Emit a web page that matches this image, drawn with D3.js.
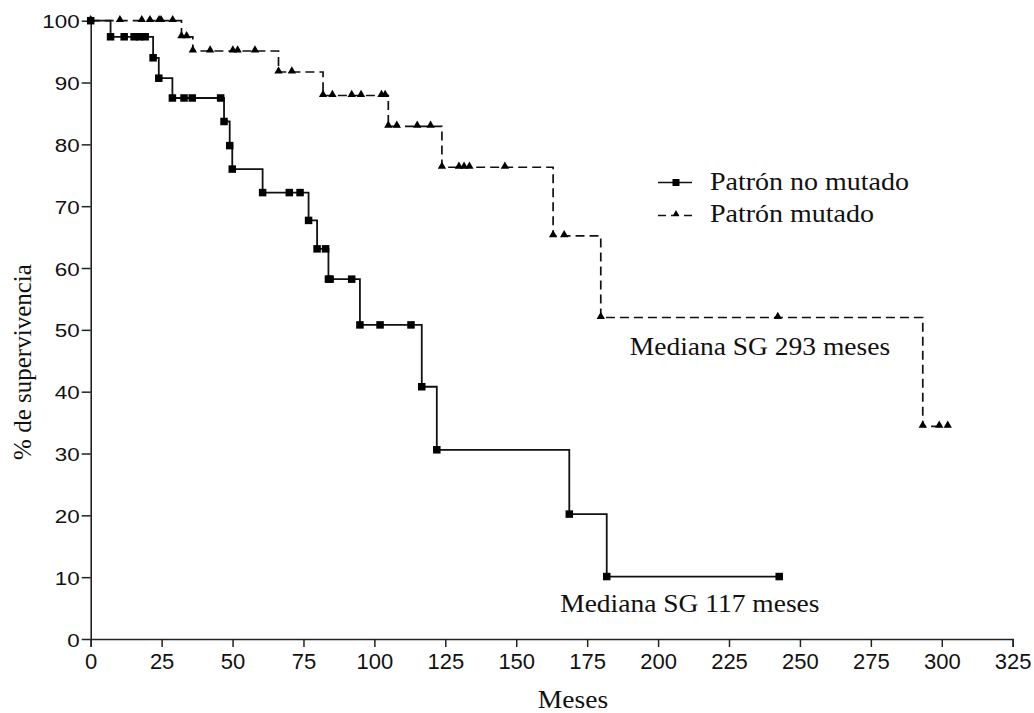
<!DOCTYPE html>
<html>
<head>
<meta charset="utf-8">
<script src="https://cdn.jsdelivr.net/npm/d3@7"></script>
<style>
  body { margin: 0; background: #fff; }
  svg { display: block; }
</style>
</head>
<body>
<svg id="chart" width="1034" height="713"></svg>
<script>
// Axis ticks
const xTicks = [0, 25, 50, 75, 100, 125, 150, 175, 200, 225, 250, 275, 300, 325];
const yTicks = [0, 10, 20, 30, 40, 50, 60, 70, 80, 90, 100];

// Series names
const seriesNames = ["Patrón no mutado", "Patrón mutado"];

// Kaplan-Meier: unmutated pattern (months, % survival)
const noMutTime = [0, 7.0, 11.8, 15.3, 17.2, 19.2, 22.0, 24.0, 28.8, 32.9, 35.8, 45.8,
  47.0, 49.0, 49.9, 60.6, 70.0, 73.8, 76.8, 79.8, 82.8, 83.8, 84.4, 92.0,
  94.9, 102.0, 112.9, 116.7, 122.0, 168.7, 181.9, 242.7];
const noMutSurv = [100, 97.4, 97.4, 97.4, 97.4, 97.4, 94.0, 90.7, 87.5, 87.5, 87.5, 87.5,
  83.7, 79.8, 76.0, 72.2, 72.2, 72.2, 67.7, 63.1, 63.1, 58.2, 58.2, 58.2,
  50.8, 50.8, 50.8, 40.8, 30.6, 20.2, 10.1, 10.1];

// Kaplan-Meier: mutated pattern (months, % survival)
const mutTime = [0, 10.3, 18.0, 20.9, 24.1, 24.8, 28.9, 32.0, 33.8, 36.0, 42.1, 50.1,
  51.8, 57.9, 66.2, 70.9, 81.9, 85.2, 92.0, 95.3, 102.5, 103.8, 104.9, 107.9,
  115.1, 119.8, 123.8, 129.8, 131.6, 133.5, 146.0, 163.0, 166.9, 179.8, 242.2,
  293.3, 299.1, 302.1];
const mutSurv = [100, 100, 100, 100, 100, 100, 100, 97.4, 97.4, 95.1, 95.1, 95.1,
  95.1, 95.1, 91.7, 91.7, 87.9, 87.9, 87.9, 87.9, 87.9, 87.9, 82.9, 82.9,
  82.9, 82.9, 76.3, 76.3, 76.3, 76.3, 76.3, 65.2, 65.2, 52.0, 52.0,
  34.4, 34.4, 34.4];

// Median annotations
const medianLabels = ["Mediana SG 293 meses", "Mediana SG 117 meses"];
const medianLabelPos = [[235.9, 45.9], [211.2, 4.4]];

const svg = d3.select("#chart");
const x = d3.scaleLinear().domain([0, 325]).range([90.7, 1012.7]);
const y = d3.scaleLinear().domain([0, 100]).range([639, 20.7]);

const ink = "#111";
const serif = "'Liberation Serif', 'Times New Roman', serif";
const sans = "'Liberation Sans', Arial, sans-serif";

// X axis
const xAxis = svg.append("g")
  .attr("transform", `translate(0,${y(0)})`)
  .call(d3.axisBottom(x).tickValues(xTicks).tickSize(8).tickPadding(6).tickSizeOuter(8));
xAxis.select(".domain").attr("stroke", "#222").attr("stroke-width", 1.6);
xAxis.selectAll(".tick line").attr("stroke", "#222").attr("stroke-width", 1.5);
xAxis.selectAll(".tick text")
  .attr("fill", ink).style("font-family", sans).style("font-size", "22px");

// Y axis
const yAxis = svg.append("g")
  .attr("transform", `translate(${x(0)},0)`)
  .call(d3.axisLeft(y).tickValues(yTicks).tickSize(9).tickPadding(2).tickSizeOuter(0));
yAxis.select(".domain").attr("stroke", "#222").attr("stroke-width", 1.6);
yAxis.selectAll(".tick line").attr("stroke", "#222").attr("stroke-width", 1.5);
yAxis.selectAll(".tick text")
  .attr("fill", ink).style("font-family", sans).style("font-size", "19px")
  .attr("x", null).attr("dy", null)
  .attr("transform", "translate(-11,7) scale(1.18,1)");

// Axis titles
svg.append("text")
  .attr("transform", `translate(${x(170)},708) scale(1.1,1)`)
  .attr("text-anchor", "middle")
  .style("font-family", serif).style("font-size", "25px").attr("fill", ink)
  .text("Meses");
svg.append("text")
  .attr("transform", `translate(31,${y(44.8)}) rotate(-90)`)
  .attr("text-anchor", "middle")
  .style("font-family", serif).style("font-size", "25px").attr("fill", ink)
  .text("% de supervivencia");

// Survival step curves
const step = d3.line().curve(d3.curveStepAfter).x(d => x(d[0])).y(d => y(d[1]));
const noMutPts = noMutTime.map((t, i) => [t, noMutSurv[i]]);
const mutPts = mutTime.map((t, i) => [t, mutSurv[i]]);

svg.append("path").datum(mutPts)
  .attr("d", step).attr("fill", "none")
  .attr("stroke", "#111").attr("stroke-width", 1.7).attr("stroke-dasharray", "9,5");
svg.append("path").datum(noMutPts)
  .attr("d", step).attr("fill", "none")
  .attr("stroke", "#111").attr("stroke-width", 1.8);

const tri = d3.symbol().type(d3.symbolTriangle).size(30);
svg.append("g").selectAll("path").data(mutPts).join("path")
  .attr("d", tri)
  .attr("transform", d => `translate(${x(d[0])},${y(d[1]) - 1})`)
  .attr("fill", "#000");

const sq = 7.5;
svg.append("g").selectAll("rect").data(noMutPts).join("rect")
  .attr("x", d => x(d[0]) - sq / 2).attr("y", d => y(d[1]) - sq / 2)
  .attr("width", sq).attr("height", sq)
  .attr("fill", "#000");

// Legend
const legend = svg.append("g");
legend.append("line").attr("x1", 658).attr("x2", 692).attr("y1", 182.5).attr("y2", 182.5)
  .attr("stroke", "#111").attr("stroke-width", 1.6);
legend.append("rect").attr("x", 672.5).attr("y", 179).attr("width", 7).attr("height", 7).attr("fill", "#000");
legend.append("line").attr("x1", 658).attr("x2", 692).attr("y1", 215.5).attr("y2", 215.5)
  .attr("stroke", "#111").attr("stroke-width", 1.6).attr("stroke-dasharray", "8,5");
legend.append("path").attr("d", d3.symbol().type(d3.symbolTriangle).size(20))
  .attr("transform", "translate(676,214)").attr("fill", "#000");
legend.selectAll("text").data(seriesNames).join("text")
  .attr("transform", (d, i) => `translate(710,${190 + i * 32}) scale(1.12,1)`)
  .style("font-family", serif).style("font-size", "25px").attr("fill", ink)
  .text(d => d);

// Median annotations
svg.append("g").selectAll("text").data(medianLabels).join("text")
  .attr("transform", (d, i) => `translate(${x(medianLabelPos[i][0])},${y(medianLabelPos[i][1])}) scale(1.1,1)`)
  .attr("text-anchor", "middle")
  .style("font-family", serif).style("font-size", "25px").attr("fill", ink)
  .text(d => d);
</script>
</body>
</html>
